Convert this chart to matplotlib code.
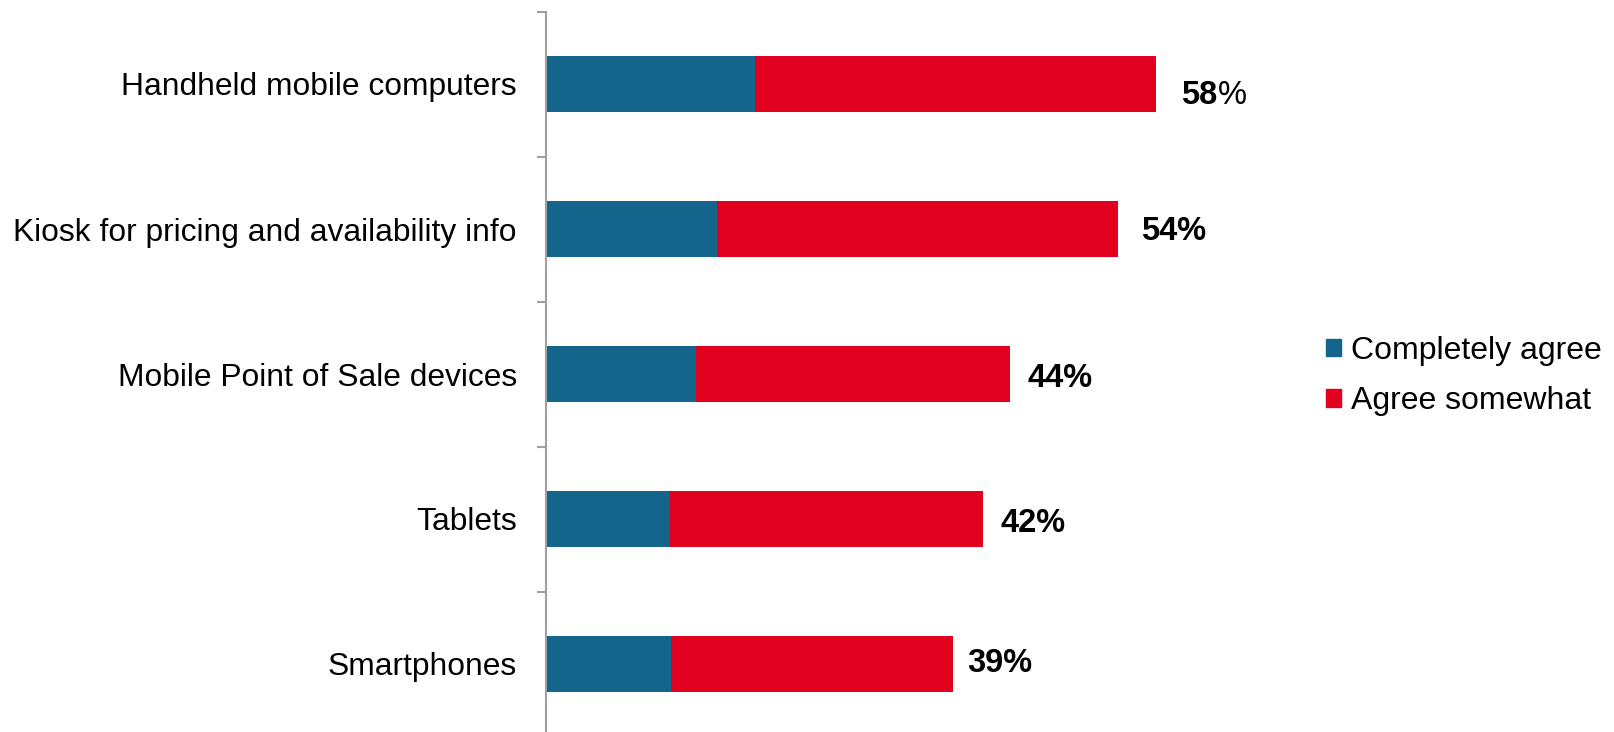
import matplotlib.pyplot as plt
from matplotlib.patches import Patch
from matplotlib.ticker import FixedLocator

plt.rcParams['font.family'] = ['Liberation Sans', 'DejaVu Sans']

# data
categories = ['Handheld mobile computers', 'Kiosk for pricing and availability info',
              'Mobile Point of Sale devices', 'Tablets', 'Smartphones']
completely = [19.9, 16.3, 14.3, 11.8, 11.9]
somewhat = [38.1, 38.1, 29.8, 29.8, 26.8]
totals = [58, 54, 44, 42, 39]

blue = '#15648B'
red = '#E2001F'

fig = plt.figure(figsize=(16.15, 7.32), dpi=100)
ax = fig.add_axes([546 / 1615, -4.5 / 732, 736 / 1615, 725 / 732])

y = list(range(len(categories)))
ax.barh(y, completely, height=0.39, color=blue)
ax.barh(y, somewhat, left=completely, height=0.39, color=red)

# label offsets (points) per bar
dx = [18.5, 16.3, 12.6, 12.6, 10.4]
dy = [-8, -2, -3, -3, 0]
for i, t in enumerate(totals):
    end = completely[i] + somewhat[i]
    if i == 0:
        num = ax.annotate(f'{t}', (end, i), xytext=(dx[i], dy[i]), textcoords='offset points',
                          va='center', ha='left', fontsize=23.5, fontweight='bold')
        ax.annotate('%', xy=(1, 0), xycoords=num, va='bottom', ha='left', fontsize=23.5)
    else:
        ax.annotate(f'{t}%', (end, i), xytext=(dx[i], dy[i]), textcoords='offset points',
                    va='center', ha='left', fontsize=23.5, fontweight='bold')

ax.set_xlim(0, 70)
ax.set_ylim(len(categories) - 0.5, -0.5)
ax.set_yticks(y)
ax.set_yticklabels(categories, fontsize=22.9)
ax.yaxis.set_minor_locator(FixedLocator([i - 0.5 for i in range(len(categories) + 1)]))
ax.tick_params(axis='y', which='major', length=0, pad=21)
ax.tick_params(axis='y', which='minor', length=6.5, width=1.5, color='#a0a0a0')
ax.set_xticks([])
for s in ['top', 'right', 'bottom']:
    ax.spines[s].set_visible(False)
ax.spines['left'].set_color('#a0a0a0')
ax.spines['left'].set_linewidth(1.5)

handles = [Patch(color=blue, label='Completely agree'), Patch(color=red, label='Agree somewhat')]
fig.legend(handles=handles, loc='center left', bbox_to_anchor=(1326 / 1615, 1 - 376 / 732),
           frameon=False, fontsize=23, handlelength=0.47, handleheight=0.47,
           handletextpad=0.3, labelspacing=0.64, borderpad=0, borderaxespad=0)

fig.savefig('out.png', dpi=100)
